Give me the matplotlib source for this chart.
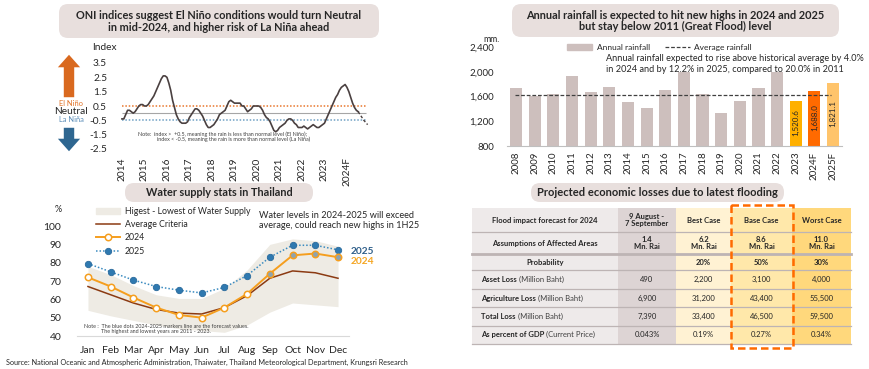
import numpy as np
import matplotlib.pyplot as plt
from matplotlib.patches import FancyBboxPatch, Rectangle, Patch
from matplotlib.lines import Line2D

plt.rcParams['font.family'] = ['Lato', 'DejaVu Sans']

W, H = 870, 369
TXT = '#262626'

# --- ONI index (monthly, Jan 2014 - Jul 2024 observed, then forecast) ---
oni_obs = [
    -0.4, -0.4, -0.1, 0.2, 0.2, 0.1, 0.0, 0.1, 0.3, 0.5, 0.6, 0.6,      # 2014
    0.5, 0.5, 0.6, 0.8, 1.0, 1.2, 1.5, 1.8, 2.1, 2.4, 2.6, 2.6,        # 2015
    2.5, 2.1, 1.6, 0.9, 0.4, -0.1, -0.4, -0.6, -0.7, -0.7, -0.7, -0.6, # 2016
    -0.3, -0.1, 0.1, 0.3, 0.3, 0.2, 0.0, -0.2, -0.5, -0.8, -1.0, -1.0, # 2017
    -0.9, -0.8, -0.6, -0.4, -0.1, 0.0, 0.1, 0.2, 0.5, 0.8, 0.9, 0.8,   # 2018
    0.7, 0.7, 0.7, 0.7, 0.5, 0.5, 0.3, 0.1, 0.2, 0.3, 0.5, 0.5,        # 2019
    0.5, 0.5, 0.4, 0.2, -0.1, -0.3, -0.4, -0.6, -0.9, -1.2, -1.3, -1.2,  # 2020
    -1.0, -0.9, -0.8, -0.7, -0.5, -0.4, -0.4, -0.5, -0.7, -0.8, -1.0, -1.0,  # 2021
    -1.0, -0.9, -1.0, -1.1, -1.0, -0.9, -0.8, -0.9, -1.0, -1.0, -0.9, -0.8,  # 2022
    -0.7, -0.4, -0.1, 0.2, 0.5, 0.8, 1.1, 1.3, 1.6, 1.8, 1.9, 2.0,     # 2023
    1.8, 1.5, 1.1, 0.7, 0.4, 0.2, 0.1,                                 # 2024
]
oni_fcst = [0.1, -0.1, -0.3, -0.5, -0.65, -0.8]  # Jul - Dec 2024
oni_years = ['2014', '2015', '2016', '2017', '2018', '2019', '2020',
             '2021', '2022', '2023', '2024F']

# --- Annual rainfall (mm.) ---
rain_years = ['2008', '2009', '2010', '2011', '2012', '2013', '2014', '2015', '2016',
              '2017', '2018', '2019', '2020', '2021', '2022', '2023', '2024F', '2025F']
rain_mm = [1745, 1611, 1638, 1938, 1670, 1756, 1509, 1412, 1713,
           2003, 1638, 1332, 1520, 1745, 1992, 1520.6, 1688.0, 1821.1]
rain_avg = 1623

# --- Water supply (%) ---
months = ['Jan', 'Feb', 'Mar', 'Apr', 'May', 'Jun',
          'Jul', 'Aug', 'Sep', 'Oct', 'Nov', 'Dec']
water_high = [78, 73.5, 67.5, 62.5, 60.5, 60.5, 66, 76, 90, 93, 92, 89]
water_low = [54, 51, 48.5, 46, 44, 43, 42, 46, 53, 58, 57, 56]
water_avg = [67, 62.5, 58, 54.5, 52.5, 52, 55.5, 62, 71.5, 75.5, 74.5, 71.5]
water_2024 = [72, 67, 61, 55.5, 51.5, 50, 55.5, 63, 74, 84, 85, 83]
water_2025 = [79.5, 75, 70.5, 67, 65, 63.5, 66.5, 73, 83, 89.5, 89.5, 87]
n_actual_2024 = 8  # Jan-Aug actual, Sep-Dec forecast

# --- Flood loss table ---
tbl_cols = ['Flood impact forecast for 2024', '9 August -\n7 September',
            'Best Case', 'Base Case', 'Worst Case']
tbl_rows = [
    ('Assumptions of Affected Areas', '', ['1.4\nMn. Rai', '6.2\nMn. Rai', '8.6\nMn. Rai', '11.0\nMn. Rai']),
    ('Probability', '', ['', '20%', '50%', '30%']),
    ('Asset Loss', ' (Million Baht)', ['490', '2,200', '3,100', '4,000']),
    ('Agriculture Loss', ' (Million Baht)', ['6,900', '31,200', '43,400', '55,500']),
    ('Total Loss', ' (Million Baht)', ['7,390', '33,400', '46,500', '59,500']),
    ('As percent of GDP', ' (Current Price)', ['0.043%', '0.19%', '0.27%', '0.34%']),
]


def px_axes(fig, x0, y0, x1, y1):
    ax = fig.add_axes([x0 / W, 1 - y1 / H, (x1 - x0) / W, (y1 - y0) / H])
    ax.patch.set_visible(False)
    return ax


fig = plt.figure(figsize=(W / 100, H / 100), dpi=100)


def top_text(x, y, s, **kw):
    # figure-level text, drawn above every axes
    kw.setdefault('color', TXT)
    return fig.text(x / W, 1 - y / H, s, **kw)


# background layer in pixel coordinates
bg = fig.add_axes([0, 0, 1, 1])
bg.set_xlim(0, W)
bg.set_ylim(H, 0)
bg.axis('off')


def title_box(x0, y0, x1, y1, text, size=7.9):
    bg.add_patch(FancyBboxPatch((x0 + 9, y0), x1 - x0 - 18, y1 - y0,
                                boxstyle='round,pad=0,rounding_size=9',
                                fc='#E8DFDD', ec='none'))
    bg.text((x0 + x1) / 2, (y0 + y1) / 2 + 0.5, text, ha='center', va='center',
            fontsize=size, fontweight='bold', color=TXT, linespacing=1.1)


title_box(50, 4, 388, 38, 'ONI indices suggest El Niño conditions would turn Neutral\n'
                          'in mid-2024, and higher risk of La Niña ahead')
title_box(503, 4, 848, 37, 'Annual rainfall is expected to hit new highs in 2024 and 2025\n'
                           'but stay below 2011 (Great Flood) level')
title_box(116, 183, 322, 202, 'Water supply stats in Thailand', size=7.8)
title_box(522, 183, 793, 202, 'Projected economic losses due to latest flooding', size=8.0)

# ---------------- ONI chart ----------------
ax1 = px_axes(fig, 119.7, 63, 370.6, 149)
t_obs = 2014 + np.arange(len(oni_obs)) / 12
t_fc = 2014 + (len(oni_obs) - 1 + np.arange(len(oni_fcst))) / 12
ax1.hlines(0, 2014, 2024.85, color='#A6A6A6', lw=0.8)
ax1.hlines(0.5, 2014, 2024.85, color='#E8772E', lw=1.1, ls=(0, (1, 1.2)))
ax1.hlines(-0.5, 2014, 2024.85, color='#6FA1C4', lw=1.1, ls=(0, (1, 1.2)))
ax1.plot(t_obs, oni_obs, color='#4A4040', lw=1.2)
ax1.plot(t_fc, oni_fcst, color='#4A4040', lw=1.0, ls=(0, (2, 1.5)))
ax1.set_xlim(2013.9, 2025.05)
ax1.set_ylim(-2.5, 3.5)
ax1.set_yticks(np.arange(-2.5, 3.6, 1.0))
ax1.set_yticklabels([f'{v:.1f}' for v in np.arange(-2.5, 3.6, 1.0)])
ax1.set_xticks(np.arange(2014, 2025))
ax1.set_xticklabels(oni_years, rotation=90)
ax1.tick_params(length=0, labelsize=7.3, colors=TXT, pad=6)
ax1.tick_params(axis='y', pad=9)
for s in ax1.spines.values():
    s.set_visible(False)
ax1.text(2014.7, -1.45, 'Note:  index >  +0.5, meaning the rain is less than normal level (El Niño);',
         fontsize=3.9, color='#404040', va='center')
ax1.text(2015.55, -1.85, 'index < -0.5, meaning the rain is more than normal level (La Niña)',
         fontsize=3.9, color='#404040', va='center')

bg.text(104, 47, 'Index', ha='center', va='center', fontsize=7.3, color=TXT)
bg.annotate('', xy=(69, 52), xytext=(69, 100),
            arrowprops=dict(arrowstyle='simple,head_width=1.6,head_length=0.9,tail_width=0.75',
                            fc='#D9691F', ec='none'))
bg.annotate('', xy=(69, 154), xytext=(69, 125),
            arrowprops=dict(arrowstyle='simple,head_width=1.6,head_length=0.9,tail_width=0.75',
                            fc='#2E6690', ec='none'))
bg.text(71, 104, 'El Niño', ha='center', va='center', fontsize=5.4, color='#E07328')
bg.text(71, 112, 'Neutral', ha='center', va='center', fontsize=7.3, color=TXT)
bg.text(71, 120, 'La Niña', ha='center', va='center', fontsize=5.4, color='#5B8DB8')

# ---------------- Rainfall chart ----------------
ax2 = px_axes(fig, 506.7, 47, 842.4, 146)
bar_colors = ['#CDBFBD'] * 15 + ['#FFB000', '#FF6A00', '#FFC46B']
xr = np.arange(len(rain_years))
ax2.bar(xr, rain_mm, width=0.65, color=bar_colors, zorder=2)
for i in range(15, len(rain_years)):
    ax2.text(xr[i], (800 + rain_mm[i]) / 2 + 20, f'{rain_mm[i]:,.1f}', rotation=90,
             ha='center', va='center', fontsize=5.8, color=TXT, zorder=3)
ax2.hlines(rain_avg, -0.05, 16.9, color='#404040', lw=0.9, ls=(0, (3, 1.5)), zorder=3)
ax2.set_xlim(-0.5, 17.5)
ax2.set_ylim(800, 2400)
ax2.set_yticks([800, 1200, 1600, 2000, 2400])
ax2.set_yticklabels([f'{v:,}' for v in [800, 1200, 1600, 2000, 2400]])
ax2.set_xticks(xr)
ax2.set_xticklabels(rain_years, rotation=90)
ax2.tick_params(length=0, labelsize=7, colors=TXT, pad=4)
ax2.tick_params(axis='y', pad=9)
for s in ['top', 'right', 'left']:
    ax2.spines[s].set_visible(False)
ax2.spines['bottom'].set_color('#BFBFBF')
ax2.spines['bottom'].set_linewidth(0.8)
leg2 = ax2.legend([Patch(color='#CDBFBD'), Line2D([], [], color='#404040', lw=0.9, ls=(0, (3, 1.5)))],
                  ['Annual rainfall', 'Average rainfall'], ncol=2, frameon=False,
                  fontsize=6.0, loc='upper left', bbox_to_anchor=(567 / W, 1 - 44 / H),
                  bbox_transform=fig.transFigure, borderpad=0, borderaxespad=0,
                  handlelength=3.0, handleheight=0.8, handletextpad=0.55, columnspacing=1.8)
for t in leg2.get_texts():
    t.set_color(TXT)
bg.text(483, 39, 'mm.', ha='left', va='center', fontsize=6.3, color=TXT)
top_text(606, 64, 'Annual rainfall expected to rise above historical average by 4.0%\n'
                  'in 2024 and by 12.2% in 2025, compared to 20.0% in 2011',
         ha='left', va='center', fontsize=6.6, linespacing=1.2)

# ---------------- Water supply chart ----------------
ax3 = px_axes(fig, 76.6, 207.7, 349.4, 336)
xm = np.arange(len(months))
ax3.fill_between(xm, water_low, water_high, color='#EEEBE4', lw=0, zorder=1)
ax3.plot(xm, water_avg, color='#8B3A12', lw=1.1, zorder=2)
ax3.plot(xm, water_2025, color='#3B8BC0', lw=1.1, ls=(0, (1, 1.3)), zorder=3)
ax3.plot(xm, water_2025, ls='none', marker='o', ms=4.6, mfc='#2F79B0', mec='#2A6A9C',
         mew=0.6, zorder=4)
ax3.plot(xm, water_2024, color='#F59E1E', lw=1.4, zorder=5)
k = n_actual_2024
ax3.plot(xm[:k], water_2024[:k], ls='none', marker='o', ms=4.6, mfc='white',
         mec='#F59E1E', mew=1.1, zorder=6)
ax3.plot(xm[k:], water_2024[k:], ls='none', marker='o', ms=4.6, mfc='#8FA3AE',
         mec='#F59E1E', mew=1.1, zorder=6)
ax3.set_xlim(-0.5, 11.5)
ax3.set_ylim(40, 110)
ax3.set_yticks(range(40, 101, 10))
ax3.set_xticks(xm)
ax3.set_xticklabels(months)
ax3.tick_params(length=0, labelsize=7.5, colors=TXT)
ax3.tick_params(axis='x', pad=7)
ax3.tick_params(axis='y', pad=11)
for s in ['top', 'right', 'left']:
    ax3.spines[s].set_visible(False)
ax3.spines['bottom'].set_color('#D9D9D9')
ax3.spines['bottom'].set_linewidth(0.8)
handles3 = [Patch(color='#EEEBE4'),
            Line2D([], [], color='#8B3A12', lw=1.1),
            Line2D([], [], color='#F59E1E', lw=1.4, marker='o', ms=4.6, mfc='white', mew=1.1),
            Line2D([], [], color='#3B8BC0', lw=1.1, ls=(0, (1, 1.3)), marker='o', ms=4.6,
                   mfc='#2F79B0', mec='#2A6A9C', mew=0.6)]
leg3 = ax3.legend(handles3, ['Higest - Lowest of Water Supply', 'Average Criteria', '2024', '2025'],
                  frameon=False, fontsize=6.3, loc='upper left',
                  bbox_to_anchor=(96 / W, 1 - 207 / H), bbox_transform=fig.transFigure,
                  borderpad=0, borderaxespad=0, handlelength=2.7, handleheight=0.7,
                  handletextpad=0.6, labelspacing=0.48)
for t in leg3.get_texts():
    t.set_color(TXT)
bg.text(58, 209, '%', ha='center', va='center', fontsize=6.5, color=TXT)
top_text(259, 220.5, 'Water levels in 2024-2025 will exceed\naverage, could reach new highs in 1H25',
         ha='left', va='center', fontsize=6.6, linespacing=1.15)
top_text(351, 252, '2025', ha='left', va='center', fontsize=7.3, fontweight='bold', color='#2F5F8A')
top_text(351, 261, '2024', ha='left', va='center', fontsize=7.3, fontweight='bold', color='#F5A623')
top_text(84, 326, 'Note :  The blue dots 2024-2025 markers line are the forecast values.',
         ha='left', va='center', fontsize=3.9, color='#404040')
top_text(101, 331, 'The highest and lowest years are 2011 - 2023.',
         ha='left', va='center', fontsize=3.9, color='#404040')

top_text(6, 362, 'Source: National Oceanic and Atmospheric Administration, Thaiwater, '
                 'Thailand Meteorological Department, Krungsri Research',
         ha='left', va='center', fontsize=5.2)

# ---------------- Loss table ----------------
col_w = [146, 58, 55, 61, 59]
row_h = [23.5, 22.5, 16, 18.5, 18.5, 18.5, 18]
col_colors = ['#EEEAEA', '#DDD4D4', '#FFF2D3', '#FFE8AA', '#FFD87C']
tx0, ty0 = 472, 208.3
col_x = tx0 + np.concatenate([[0], np.cumsum(col_w)])
row_y = ty0 + np.concatenate([[0], np.cumsum(row_h)])
for c in range(len(col_w)):
    bg.add_patch(Rectangle((col_x[c], row_y[0]), col_w[c], row_y[-1] - row_y[0],
                           fc=col_colors[c], ec='none', zorder=1))
for r in range(1, len(row_h)):
    lw = 2.0 if r == 2 else 0.9
    bg.plot([col_x[0], col_x[-1]], [row_y[r], row_y[r]], color='#BDB4B4', lw=lw, zorder=2)
bg.plot([col_x[0], col_x[-1]], [row_y[-1], row_y[-1]], color='#BDB4B4', lw=0.9, zorder=2)

fs = 5.5
for c, lab in enumerate(tbl_cols):
    bg.text((col_x[c] + col_x[c + 1]) / 2, (row_y[0] + row_y[1]) / 2, lab, ha='center',
            va='center', fontsize=fs, fontweight='bold', color=TXT, linespacing=1.1, zorder=3)
for r, (lab, unit, vals) in enumerate(tbl_rows):
    yc = (row_y[r + 1] + row_y[r + 2]) / 2
    if unit:
        t = bg.text(col_x[0] + 9, yc, lab, ha='left', va='center', fontsize=fs,
                    fontweight='bold', color=TXT, zorder=3)
        bg.annotate(unit, xy=(1, 0), xycoords=t, ha='left', va='bottom', fontsize=fs,
                    color='#404040', zorder=3)
    else:
        bg.text((col_x[0] + col_x[1]) / 2, yc, lab, ha='center', va='center', fontsize=fs,
                fontweight='bold', color=TXT, zorder=3)
    for c, v in enumerate(vals):
        bg.text((col_x[c + 1] + col_x[c + 2]) / 2, yc, v, ha='center', va='center',
                fontsize=fs, fontweight='bold' if r < 2 else 'normal', color=TXT,
                linespacing=1.1, zorder=3)

bg.add_patch(Rectangle((col_x[3], 204.5), col_x[4] - col_x[3] + 1.5, 143,
                       fc='none', ec='#FF6A00', lw=1.8, ls=(0, (3, 1.6)), zorder=4))

fig.savefig('out.png', dpi=100)
